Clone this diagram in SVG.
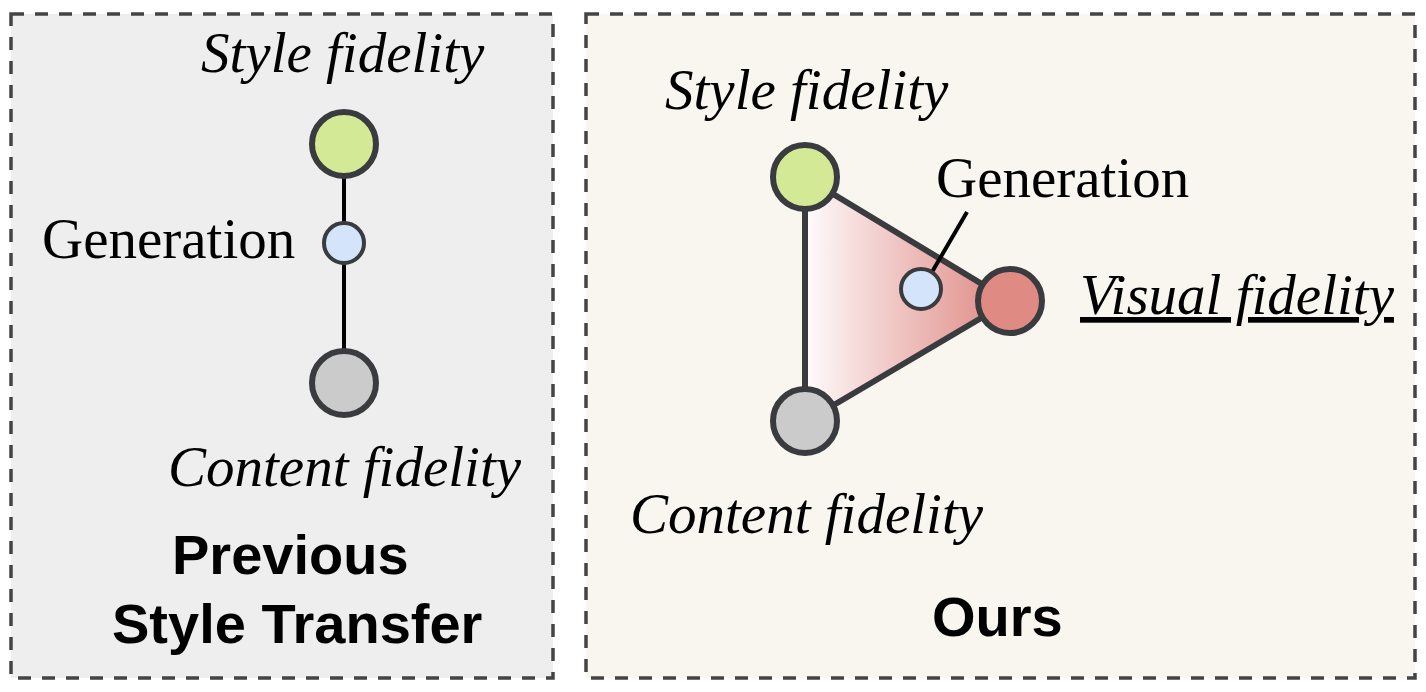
<svg xmlns="http://www.w3.org/2000/svg" width="1426" height="692" viewBox="0 0 1426 692">
  <defs>
    <linearGradient id="triGrad" x1="805" y1="0" x2="1010" y2="0" gradientUnits="userSpaceOnUse">
      <stop offset="0" stop-color="#fefcfc"/>
      <stop offset="0.3" stop-color="#f4d6d5"/>
      <stop offset="0.65" stop-color="#e9afab"/>
      <stop offset="1" stop-color="#df8680"/>
    </linearGradient>
  </defs>
  <style>
    .panel { stroke: #444447; stroke-width: 3.5; stroke-dasharray: 13 11; }
    .node { stroke: #3a3b3f; stroke-width: 6; }
    .small { stroke: #3a3b3f; stroke-width: 4; }
    .green { fill: #d4e996; }
    .gray { fill: #cbcbcb; }
    .blue { fill: #d4e4fa; }
    .red { fill: #e08a84; }
    .lbl { font-family: "Liberation Serif", "Times New Roman", serif; font-size: 57px; fill: #000; }
    .it { font-style: italic; }
    .title { font-family: "Liberation Sans", Arial, sans-serif; font-weight: bold; font-size: 56px; fill: #000; }
  </style>
  <rect width="1426" height="692" fill="#ffffff"/>
  <g id="panel-previous">
    <rect class="panel" x="11" y="14" width="542" height="664" fill="#eeeeee"/>
  </g>
  <g id="panel-ours">
    <rect class="panel" x="586" y="14" width="829" height="664" fill="#f8f6ef"/>
  </g>
  <g id="connectors">
    <line x1="344" y1="144" x2="344" y2="383" stroke="#000" stroke-width="4"/>
    <polygon points="805,177 1010,301 805,422" fill="url(#triGrad)" stroke="#3a3b3f" stroke-width="6" stroke-linejoin="round"/>
    <line x1="932" y1="272" x2="967" y2="212" stroke="#000" stroke-width="4"/>
  </g>
  <g id="prev-style">
    <circle class="node green" cx="344" cy="144" r="32"/>
    <text class="lbl it" x="201" y="72">Style fidelity</text>
  </g>
  <g id="prev-generation">
    <circle class="small blue" cx="344" cy="243" r="20"/>
    <text class="lbl" x="42" y="258">Generation</text>
  </g>
  <g id="prev-content">
    <circle class="node gray" cx="344" cy="383" r="32"/>
    <text class="lbl it" x="168" y="486">Content fidelity</text>
  </g>
  <g id="prev-title">
    <text class="title" x="172" y="574">Previous</text>
    <text class="title" x="112" y="643">Style Transfer</text>
  </g>
  <g id="ours-style">
    <circle class="node green" cx="805" cy="177" r="32"/>
    <text class="lbl it" x="665" y="109">Style fidelity</text>
  </g>
  <g id="ours-visual">
    <circle class="node red" cx="1010" cy="301" r="32"/>
    <text class="lbl it" x="1080" y="314" text-decoration="underline" style="text-decoration-thickness:4px">Visual fidelity</text>
  </g>
  <g id="ours-content">
    <circle class="node gray" cx="805" cy="421" r="32"/>
    <text class="lbl it" x="630" y="533">Content fidelity</text>
  </g>
  <g id="ours-generation">
    <circle class="small blue" cx="921" cy="289" r="20"/>
    <text class="lbl" x="936" y="197">Generation</text>
  </g>
  <g id="ours-title">
    <text class="title" x="932" y="636">Ours</text>
  </g>
</svg>
